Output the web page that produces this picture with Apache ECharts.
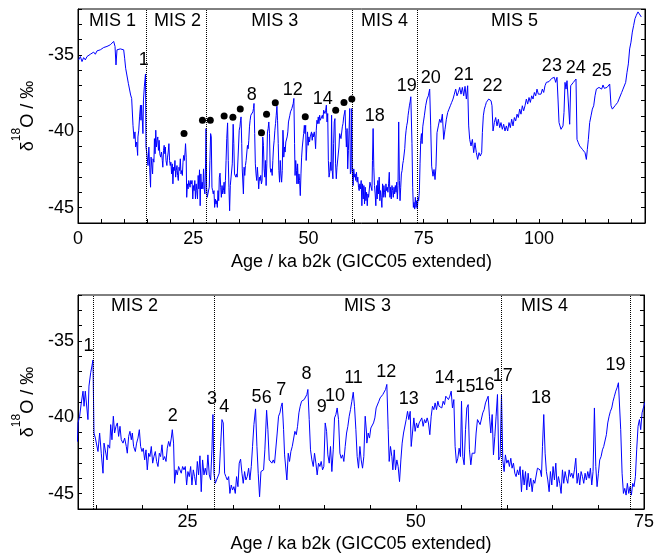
<!DOCTYPE html>
<html>
<head>
<meta charset="utf-8">
<script src="https://cdn.jsdelivr.net/npm/echarts@6.0.0/dist/echarts.min.js"></script>
<style>html,body{margin:0;padding:0;background:#fff}#chart{width:657px;height:560px}</style>
</head>
<body>
<div id="chart"></div>
<script>
// NGRIP delta-18O record, [age ka b2k, d18O permil]
const holocene = [[0.14,-35.33],[0.51,-35.11],[0.87,-35.44],[1.23,-35.18],[1.59,-35.33],[1.95,-35.11],[2.31,-35.22],[2.68,-34.96],[3.04,-35.04],[3.40,-34.82],[3.76,-34.96],[4.12,-34.74],[4.48,-34.78],[4.84,-34.67],[5.21,-34.61],[5.57,-34.52],[5.93,-34.56],[6.29,-34.45],[6.65,-34.52],[7.01,-34.34],[7.38,-34.45],[7.74,-34.12],[8.03,-34.45],[8.24,-35.66],[8.46,-34.67],[8.82,-34.78],[9.18,-34.61],[9.54,-34.74],[9.91,-34.67],[10.12,-35.22],[10.34,-35.88],[10.63,-35.77],[10.92,-36.86],[11.21,-36.93],[11.42,-37.63],[11.64,-37.85],[11.93,-39.61],[12.15,-40.48],[12.36,-40.04],[12.51,-41.03],[12.73,-40.70],[12.94,-41.58]];
const glacialA = [[13.00,-40.37],[13.18,-39.93],[13.36,-39.06],[13.55,-38.29],[13.66,-39.28],[13.80,-38.29],[13.95,-38.29],[14.09,-40.15],[14.20,-37.96],[14.39,-37.08],[14.53,-36.64],[14.64,-36.25],[14.75,-41.03],[14.90,-41.36],[15.08,-41.47],[15.19,-42.24],[15.37,-41.03],[15.55,-42.35],[15.74,-43.66],[15.85,-41.69],[15.99,-41.80],[16.18,-42.79],[16.28,-41.80],[16.47,-42.02],[16.58,-40.48],[16.72,-41.47],[16.87,-39.93],[17.01,-41.03],[17.16,-40.59],[17.31,-40.37],[17.45,-41.25],[17.60,-40.59],[17.74,-41.47],[17.93,-41.69],[18.11,-41.36],[18.29,-41.91],[18.40,-42.35],[18.55,-41.25],[18.69,-40.92],[18.84,-41.47],[18.95,-41.03],[19.09,-41.91],[19.28,-42.24],[19.42,-41.69],[19.57,-41.36],[19.72,-40.81],[19.86,-41.91],[20.01,-42.24],[20.15,-42.02],[20.30,-42.79],[20.45,-42.13],[20.59,-43.44],[20.74,-42.35],[20.88,-42.57],[21.03,-41.91],[21.18,-43.00],[21.32,-42.57],[21.47,-42.24],[21.61,-42.89],[21.76,-43.22],[21.91,-42.35],[22.05,-42.57],[22.20,-41.80],[22.34,-42.79],[22.49,-42.57],[22.64,-42.89],[22.78,-42.02],[22.93,-41.58],[23.07,-41.91],[23.22,-41.36],[23.33,-40.81],[23.47,-41.69],[23.58,-44.32],[23.73,-43.44],[23.88,-43.77],[24.02,-43.22],[24.17,-43.33],[24.31,-43.66],[24.46,-43.22],[24.61,-43.44],[24.75,-43.22],[24.90,-44.43],[25.04,-43.55],[25.19,-43.88],[25.34,-43.22],[25.48,-44.43],[25.63,-43.44],[25.77,-43.88],[25.92,-44.43],[26.07,-42.89],[26.21,-43.77],[26.36,-42.52],[26.50,-44.87],[26.65,-42.79],[26.80,-43.77],[26.94,-43.33],[27.09,-43.77],[27.23,-42.46],[27.38,-43.77],[27.53,-44.10],[27.67,-42.13],[27.78,-39.82],[27.89,-43.66],[28.04,-44.32],[28.18,-44.10],[28.33,-44.10],[28.47,-43.66],[28.62,-41.91],[28.77,-40.15],[28.91,-40.37],[29.06,-43.66],[29.20,-43.88],[29.35,-44.10],[29.50,-43.88],[29.64,-44.98],[29.79,-44.43],[29.93,-44.76],[30.08,-44.54],[30.23,-44.98],[30.37,-43.88],[30.52,-44.54],[30.66,-43.00],[30.81,-42.74],[30.96,-43.66],[31.10,-44.32],[31.25,-43.55],[31.39,-44.10],[31.54,-43.88],[31.69,-43.33],[31.83,-44.10],[31.98,-43.22],[32.12,-41.91],[32.27,-40.48],[32.45,-39.45],[32.60,-41.91],[32.74,-43.66],[32.89,-45.20],[33.04,-43.55],[33.18,-43.66],[33.33,-43.44],[33.47,-42.13],[33.66,-39.54],[33.80,-40.81],[33.95,-42.79],[34.09,-42.89],[34.24,-43.00],[34.39,-42.79],[34.53,-43.00],[34.68,-43.05],[34.82,-41.03],[34.97,-39.93],[35.12,-39.71],[35.26,-39.28],[35.37,-39.06],[35.52,-40.81],[35.63,-42.46],[35.77,-42.57],[35.88,-44.10],[36.03,-42.35],[36.17,-42.89],[36.32,-42.24],[36.47,-41.91],[36.61,-41.80],[36.76,-40.92],[36.91,-41.14],[37.05,-40.59],[37.20,-39.71],[37.34,-39.28],[37.49,-38.95],[37.64,-38.95],[37.78,-38.84],[37.93,-38.73],[38.07,-38.51],[38.18,-38.18],[38.33,-40.15],[38.47,-42.13],[38.62,-42.79],[38.77,-43.22],[38.91,-42.35],[39.06,-43.00],[39.20,-43.77],[39.35,-43.00],[39.50,-43.22],[39.64,-42.89],[39.79,-43.44],[39.93,-43.22],[40.08,-40.37],[40.23,-40.92],[40.37,-42.46],[40.52,-43.00],[40.66,-41.91],[40.81,-43.55],[40.96,-42.13],[41.10,-40.04],[41.25,-39.82],[41.39,-39.39],[41.54,-40.15],[41.69,-42.35],[41.83,-42.68],[41.98,-42.46],[42.12,-42.89],[42.27,-41.91],[42.42,-41.03],[42.56,-40.59],[42.71,-39.93],[42.85,-39.50],[43.00,-38.95],[43.15,-38.36],[43.29,-39.28],[43.44,-40.81],[43.58,-42.57],[43.73,-43.33],[43.88,-41.91],[44.02,-42.79],[44.17,-43.33],[44.31,-42.57],[44.46,-39.93],[44.61,-41.03]];
const glacialB = [[44.64,-41.69],[44.79,-41.03],[44.93,-41.36],[45.08,-40.70],[45.23,-40.81],[45.37,-40.37],[45.52,-40.04],[45.66,-39.39],[45.81,-39.39],[45.96,-38.95],[46.10,-38.73],[46.25,-38.84],[46.39,-38.51],[46.54,-38.62],[46.69,-38.18],[46.83,-37.85],[46.98,-40.81],[47.09,-42.89],[47.23,-41.91],[47.38,-42.57],[47.49,-43.44],[47.64,-42.13],[47.78,-43.44],[47.93,-42.79],[48.07,-43.22],[48.22,-44.21],[48.37,-42.79],[48.51,-41.69],[48.66,-41.03],[48.80,-40.92],[48.95,-40.15],[49.10,-39.61],[49.24,-40.15],[49.39,-39.61],[49.50,-41.91],[49.64,-41.03],[49.79,-40.04],[49.93,-40.92],[50.08,-40.37],[50.23,-40.70],[50.37,-40.37],[50.52,-40.48],[50.66,-40.04],[50.81,-40.59],[50.96,-40.15],[51.10,-40.37],[51.25,-40.04],[51.39,-40.37],[51.54,-41.14],[51.69,-39.93],[51.83,-39.28],[51.98,-39.50],[52.12,-39.06],[52.27,-39.50],[52.42,-38.95],[52.56,-39.28],[52.71,-39.17],[52.85,-39.39],[53.00,-38.95],[53.15,-39.17],[53.29,-38.62],[53.44,-38.73],[53.58,-38.84],[53.73,-38.62],[53.88,-38.29],[54.02,-39.39],[54.17,-38.84],[54.31,-41.91],[54.46,-43.00],[54.61,-42.68],[54.75,-42.02],[54.90,-42.57],[55.01,-38.95],[55.15,-42.57],[55.30,-43.11],[55.45,-40.81],[55.59,-39.39],[55.74,-39.17],[55.88,-42.13],[56.03,-43.11],[56.18,-42.35],[56.32,-42.24],[56.47,-42.35],[56.61,-41.03],[56.76,-40.15],[56.91,-40.26],[57.05,-40.48],[57.20,-40.59],[57.34,-39.71],[57.49,-39.50],[57.64,-39.06],[57.78,-38.95],[57.93,-38.62],[58.07,-39.93],[58.22,-41.03],[58.37,-39.82],[58.51,-42.46],[58.66,-41.25],[58.80,-39.93],[58.95,-38.51],[59.09,-42.79],[59.24,-42.57],[59.39,-38.51],[59.53,-42.79],[59.68,-43.55],[59.82,-42.46],[59.97,-43.00],[60.12,-42.79],[60.26,-43.22],[60.41,-42.68],[60.55,-43.33],[60.70,-43.00],[60.85,-43.66],[60.99,-43.88],[61.14,-43.44],[61.28,-43.77],[61.43,-43.22],[61.58,-44.87],[61.72,-43.44],[61.87,-44.43],[62.02,-43.55],[62.16,-44.76],[62.31,-43.66],[62.45,-44.54],[62.60,-43.99],[62.75,-44.87],[62.89,-44.10],[63.04,-44.32],[63.18,-44.43],[63.33,-43.33],[63.48,-43.22],[63.62,-43.44],[63.77,-43.88],[63.88,-41.91],[64.02,-39.82],[64.17,-42.35],[64.31,-43.55],[64.46,-44.10],[64.61,-44.87],[64.75,-43.55],[64.90,-44.43],[65.04,-43.22],[65.19,-44.10],[65.34,-43.00],[65.48,-44.54],[65.63,-43.88],[65.77,-44.32],[65.92,-44.98],[66.07,-43.44],[66.21,-44.32],[66.36,-43.55],[66.50,-43.99],[66.65,-44.32],[66.80,-43.44],[66.94,-43.88],[67.09,-43.66],[67.23,-43.99],[67.38,-43.44],[67.53,-42.68],[67.67,-44.32],[67.82,-43.66],[67.96,-44.43],[68.11,-43.55],[68.26,-43.88],[68.40,-44.32],[68.55,-43.66],[68.69,-44.10],[68.84,-43.55],[68.99,-43.99],[69.13,-43.33],[69.28,-44.43],[69.42,-43.55],[69.57,-39.39],[69.72,-43.22],[69.86,-44.54],[70.01,-43.66],[70.15,-42.79],[70.30,-42.57],[70.45,-42.13],[70.59,-41.91],[70.74,-41.80],[70.88,-41.14],[71.03,-40.37],[71.18,-39.93],[71.32,-39.61],[71.47,-39.39],[71.61,-38.95],[71.76,-38.62],[71.91,-38.29],[72.05,-38.07],[72.20,-37.74],[72.31,-37.63],[72.45,-40.81],[72.60,-43.66],[72.75,-44.98],[72.89,-44.65],[73.04,-45.09],[73.18,-44.32],[73.33,-44.98],[73.48,-44.54],[73.62,-45.09],[73.77,-44.32],[73.91,-44.54],[74.06,-43.88],[74.20,-42.13],[74.35,-40.59],[74.50,-40.15],[74.64,-40.81],[74.79,-39.71],[74.93,-39.39]];
const eemian = [[75.13,-38.99],[75.42,-38.33],[75.71,-37.89],[76.00,-37.68],[76.29,-37.24],[76.51,-39.65],[76.72,-42.28],[77.01,-42.94],[77.23,-42.50],[77.45,-43.16],[77.66,-42.28],[77.88,-40.09],[78.17,-39.65],[78.46,-39.21],[78.75,-39.43],[79.04,-38.88],[79.33,-40.53],[79.62,-39.87],[79.91,-39.21],[80.20,-38.77],[80.48,-38.55],[80.77,-38.33],[81.06,-38.11],[81.35,-37.89],[81.64,-37.57],[81.93,-37.24],[82.22,-37.68],[82.51,-37.46],[82.80,-37.13],[83.09,-37.57],[83.38,-37.13],[83.67,-37.68],[83.96,-37.06],[84.25,-37.89],[84.53,-37.02],[84.75,-39.65],[84.97,-40.53],[85.26,-40.96],[85.55,-40.53],[85.84,-41.40],[86.12,-40.75],[86.41,-41.40],[86.70,-41.84],[86.99,-41.40],[87.28,-41.62],[87.57,-41.40],[87.72,-40.09],[87.93,-38.99],[88.15,-38.55],[88.37,-38.33],[88.58,-38.11],[88.87,-38.00],[89.09,-37.89],[89.31,-37.85],[89.60,-38.00],[89.81,-38.33],[90.03,-39.98],[90.32,-39.43],[90.61,-39.10],[90.90,-39.65],[91.19,-39.21],[91.48,-39.76],[91.76,-39.43],[92.05,-39.87],[92.34,-39.54],[92.63,-39.98],[92.92,-39.65],[93.21,-39.98],[93.50,-39.43],[93.79,-39.76],[94.08,-39.21],[94.37,-39.65],[94.66,-39.10],[94.95,-39.32],[95.24,-38.88],[95.52,-39.10],[95.81,-38.55],[96.10,-38.88],[96.39,-38.33],[96.68,-38.66],[96.97,-38.33],[97.26,-37.89],[97.55,-38.22],[97.84,-37.79],[98.13,-38.11],[98.42,-37.68],[98.71,-37.89],[99.00,-37.46],[99.29,-37.68],[99.57,-37.24],[99.86,-37.57],[100.15,-37.46],[100.44,-37.57],[100.73,-37.24],[101.02,-37.46],[101.31,-37.02],[101.60,-36.80],[101.89,-36.91],[102.18,-36.75],[102.47,-36.80],[102.76,-36.54],[103.05,-36.58],[103.33,-36.47],[103.62,-36.80],[103.91,-36.47],[104.13,-37.89],[104.35,-39.43],[104.56,-39.65],[104.78,-39.87],[105.00,-39.98],[105.21,-39.65],[105.43,-38.77],[105.65,-36.80],[105.86,-37.24],[106.08,-36.69],[106.37,-36.80],[106.66,-39.54],[106.88,-37.02],[107.17,-36.91],[107.46,-36.80],[107.74,-36.69],[108.03,-36.58],[108.25,-40.53],[108.54,-40.75],[108.83,-40.96],[109.12,-41.07],[109.41,-41.18],[109.70,-41.29],[109.99,-41.40],[110.28,-41.84],[110.49,-41.18],[110.71,-40.53],[111.00,-39.43],[111.29,-38.99],[111.58,-38.55],[111.87,-38.33],[112.16,-37.68],[112.45,-37.24],[112.73,-37.35],[113.02,-37.13],[113.31,-37.02],[113.60,-37.24],[113.89,-36.97],[114.18,-37.19],[114.47,-37.06],[114.76,-37.13],[115.05,-37.02],[115.34,-36.91],[115.63,-38.33],[115.92,-38.55],[116.21,-38.44],[116.49,-38.33],[116.78,-38.22],[117.07,-38.11],[117.36,-37.89],[117.65,-37.79],[117.94,-37.46],[118.23,-37.24],[118.52,-37.13],[118.81,-36.80],[119.10,-36.14],[119.39,-35.59],[119.67,-34.61],[119.96,-34.17],[120.25,-33.51],[120.54,-33.07],[120.83,-32.63],[121.12,-32.41],[121.48,-32.19],[121.84,-32.30],[122.20,-32.52]];

// MIS boundaries (ka b2k)
const misBounds = [14.7, 27.9, 59.4, 73.5];
// MIS labels: [age, d18O, text]
const misTop = [[7.5,-32.78,'MIS 1'],[21.6,-32.78,'MIS 2'],[42.7,-32.78,'MIS 3'],[66.5,-32.78,'MIS 4'],[94.7,-32.78,'MIS 5']];
const misBottom = [[19.2,-32.72,'MIS 2'],[44.7,-32.72,'MIS 3'],[64.1,-32.72,'MIS 4']];
// Interstadial numbers
const gisTop = [[14.25,-35.33,'1'],[37.7,-37.63,'8'],[46.6,-37.3,'12'],[53.1,-37.9,'14'],[64.4,-39.03,'18'],[71.3,-37.06,'19'],[76.5,-36.53,'20'],[83.7,-36.34,'21'],[89.9,-37.06,'22'],[102.8,-35.74,'23'],[107.96,-35.88,'24'],[113.6,-36.07,'25']];
const gisDots = [[23.0,-40.15],[27.0,-39.28],[28.7,-39.28],[31.7,-39.0],[33.6,-39.08],[35.2,-38.55],[39.8,-40.09],[40.9,-38.88],[42.8,-38.13],[49.3,-39.05],[55.9,-38.62],[57.7,-38.11],[59.4,-37.89]];
const gisBottom = [[14.14,-35.37,'1'],[23.37,-39.91,'2'],[27.67,-38.82,'3'],[29.03,-39.3,'4'],[32.56,-38.67,'5'],[33.69,-38.71,'6'],[35.27,-38.23,'7'],[38.04,-37.18,'8'],[39.71,-39.3,'9'],[41.14,-38.64,'10'],[43.18,-37.46,'11'],[46.76,-37.07,'12'],[49.24,-38.82,'13'],[53.15,-37.46,'14'],[55.45,-38.05,'15'],[57.53,-37.9,'16'],[59.53,-37.29,'17'],[63.73,-38.71,'18'],[71.87,-36.59,'19']];

// Ticks
const topXTicks = [0,5,10,15,20,25,30,35,40,45,50,55,60,65,70,75,80,85,90,95,100,105,110,115,120];
const topXLabels = [0,25,50,75,100];
const botXTicks = [15,20,25,30,35,40,45,50,55,60,65,70,75];
const botXLabels = [25,50,75];
const yTicks = [-46,-45,-44,-43,-42,-41,-40,-39,-38,-37,-36,-35,-34,-33,-32];
const yLabels = [-45,-40,-35];

const record = holocene.concat(glacialA, glacialB, eemian);
const FONT = '"Liberation Sans", Arial, sans-serif';
const BLACK = '#000';

function xAx(grid, min, max, ticks, labels, gap, margin) {
  return {
    type: 'value', gridIndex: grid, min: min, max: max,
    axisLine: {show: true, onZero: false, lineStyle: {color: BLACK, width: 1}},
    axisTick: {show: true, inside: true, length: 4, customValues: ticks, lineStyle: {color: BLACK}},
    axisLabel: {customValues: labels, margin: margin, fontSize: 18, color: BLACK, fontFamily: FONT},
    splitLine: {show: false},
    name: 'Age / ka b2k (GICC05 extended)', nameLocation: 'middle', nameGap: gap,
    nameTextStyle: {fontSize: 18, color: BLACK, fontFamily: FONT}
  };
}
function yAx(grid, right) {
  const ax = {
    type: 'value', gridIndex: grid, min: -46, max: -32, position: right ? 'right' : 'left',
    axisLine: {show: true, onZero: false, lineStyle: {color: BLACK, width: 1}},
    axisTick: {show: true, inside: true, length: 4, customValues: yTicks, lineStyle: {color: BLACK}},
    axisLabel: {show: !right, customValues: yLabels, margin: 4, fontSize: 18, color: BLACK, fontFamily: FONT},
    splitLine: {show: false}
  };
  if (!right) {
    ax.name = '{d|δ}{s|18}{d|O / ‰}';
    ax.nameLocation = 'middle';
    ax.nameRotate = 90;
    ax.nameGap = 38;
    ax.nameTextStyle = {
      color: BLACK, fontSize: 18, fontFamily: FONT,
      rich: {
        d: {fontSize: 18, color: BLACK, fontFamily: FONT, verticalAlign: 'bottom', lineHeight: 26},
        s: {fontSize: 12, color: BLACK, fontFamily: FONT, verticalAlign: 'top'}
      }
    };
  }
  return ax;
}
function textSeries(xi, yi, data) {
  return {
    type: 'scatter', xAxisIndex: xi, yAxisIndex: yi, data: data, symbolSize: 0, silent: true,
    itemStyle: {color: BLACK, opacity: 1},
    label: {show: true, position: 'inside', formatter: p => p.data[2], color: BLACK, opacity: 1, fontSize: 18, fontFamily: FONT},
    z: 5
  };
}
function recordSeries(xi, yi) {
  return {
    type: 'line', xAxisIndex: xi, yAxisIndex: yi, data: record, showSymbol: false, symbol: 'none',
    lineStyle: {color: '#0000ff', width: 1}, clip: true, silent: true,
    markLine: {
      symbol: 'none', silent: true, label: {show: false},
      lineStyle: {type: 'dotted', color: BLACK, width: 1, opacity: 1},
      data: misBounds.map(v => ({xAxis: v}))
    }
  };
}

const chart = echarts.init(document.getElementById('chart'), null, {renderer: 'canvas'});
chart.setOption({
  animation: false,
  backgroundColor: '#fff',
  textStyle: {fontFamily: FONT},
  grid: [
    {left: 78, right: 12, top: 9, height: 214, show: true, borderColor: BLACK, borderWidth: 1, containLabel: false},
    {left: 78, right: 12, top: 295, height: 214, show: true, borderColor: BLACK, borderWidth: 1, containLabel: false}
  ],
  xAxis: [
    xAx(0, 0, 123, topXTicks, topXLabels, 30, 7),
    xAx(1, 13, 75, botXTicks, botXLabels, 26, 4)
  ],
  yAxis: [yAx(0, false), yAx(0, true), yAx(1, false), yAx(1, true)],
  series: [
    recordSeries(0, 0),
    recordSeries(1, 2),
    {type: 'scatter', xAxisIndex: 0, yAxisIndex: 0, data: gisDots, symbol: 'circle', symbolSize: 7, itemStyle: {color: BLACK, opacity: 1}, silent: true, z: 4},
    textSeries(0, 0, gisTop),
    textSeries(0, 0, misTop),
    textSeries(1, 2, gisBottom),
    textSeries(1, 2, misBottom)
  ]
});
</script>
</body>
</html>
